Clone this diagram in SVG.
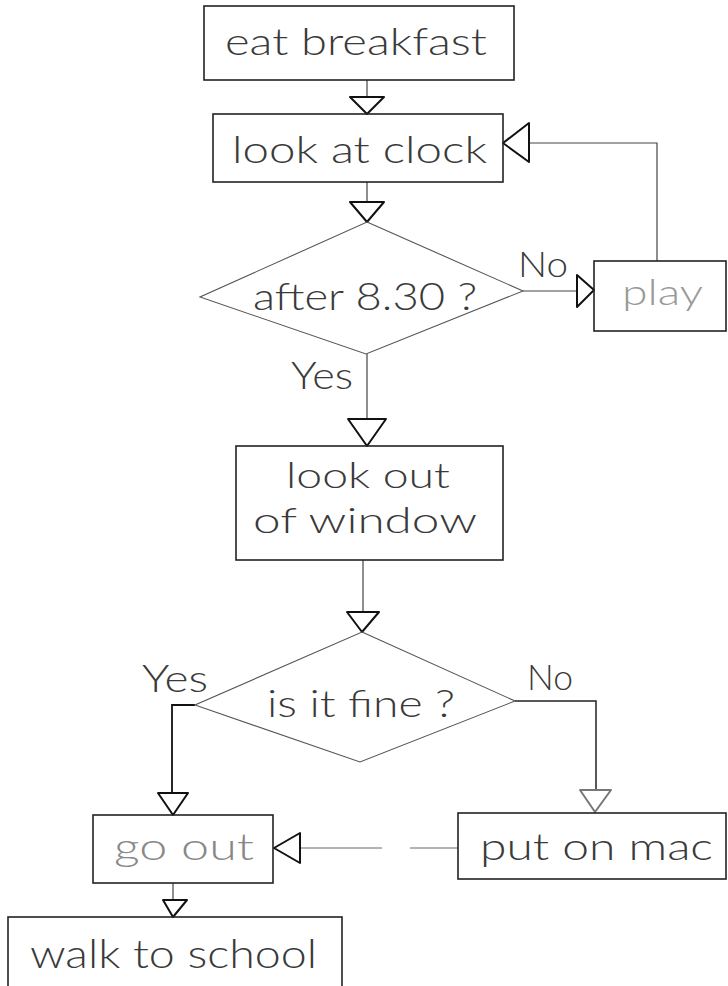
<svg xmlns="http://www.w3.org/2000/svg" width="728" height="986" viewBox="0 0 728 986">
<style>
.box{fill:none;stroke:#222;stroke-width:1.6}
.dia{fill:none;stroke:#555;stroke-width:1.1}
.ln{fill:none;stroke:#444;stroke-width:1.2}
.ah{fill:#fff;stroke:#111;stroke-width:2;stroke-linejoin:round}
.t{font-family:"Lato","Liberation Sans",sans-serif;font-weight:300;fill:#3a3a3a;text-anchor:start}
</style>
<rect width="728" height="986" fill="#fff"/>
<g id="connectors">
  <line class="ln" x1="367" y1="80" x2="367" y2="97"/>
  <polygon class="ah" points="350,97 384,97 367,114"/>
  <line class="ln" x1="367" y1="182" x2="367" y2="202"/>
  <polygon class="ah" points="350,202 384,202 367,222"/>
  <line class="ln" x1="523" y1="291" x2="577" y2="291"/>
  <polygon class="ah" points="577,275 577,307 594,290"/>
  <polyline class="ln" points="657,261 657,143 529,143"/>
  <polygon class="ah" points="529,123 529,162 503,143"/>
  <line class="ln" x1="367" y1="354" x2="367" y2="419"/>
  <polygon class="ah" points="348,419 386,419 367,446"/>
  <line class="ln" x1="363" y1="560" x2="363" y2="612"/>
  <polygon class="ah" points="347,612 379,612 362,632"/>
  <polyline class="ln" points="195,705 172,705 172,793" style="stroke:#111;stroke-width:1.8"/>
  <polygon class="ah" points="158,793 188,793 173,815"/>
  <polyline class="ln" points="515,701 596,701 596,790" style="stroke:#222;stroke-width:1.5"/>
  <polygon class="ah" points="580,790 611,790 595,812" style="stroke:#777"/>
  <line class="ln" x1="458" y1="848" x2="300" y2="848" stroke-dasharray="48,28,300" style="stroke:#666;stroke-width:1"/>
  <polygon class="ah" points="300,833 300,863 274,848"/>
  <line class="ln" x1="173" y1="883" x2="173" y2="900"/>
  <polygon class="ah" points="163,900 187,900 173,917"/>
</g>
<g id="eat-breakfast">
  <rect class="box" x="204" y="6" width="310" height="74"/>
  <text class="t" x="225" y="55" font-size="37" textLength="262" lengthAdjust="spacingAndGlyphs">eat breakfast</text>
</g>
<g id="look-at-clock">
  <rect class="box" x="213" y="114" width="290" height="68"/>
  <text class="t" x="232" y="163" font-size="38" textLength="255" lengthAdjust="spacingAndGlyphs">look at clock</text>
</g>
<g id="after-830">
  <polygon class="dia" points="367,222 523,291 366,354 200,297"/>
  <text class="t" x="253" y="310" font-size="37" textLength="224" lengthAdjust="spacingAndGlyphs">after 8.30 ?</text>
  <text class="t" x="518" y="277" font-size="36" textLength="50" lengthAdjust="spacingAndGlyphs">No</text>
  <text class="t" x="291" y="389" font-size="38" textLength="62" lengthAdjust="spacingAndGlyphs">Yes</text>
</g>
<g id="play">
  <rect class="box" x="594" y="261" width="132" height="70"/>
  <text class="t" x="622" y="305" font-size="36" textLength="81" lengthAdjust="spacingAndGlyphs" style="fill:#999">play</text>
</g>
<g id="look-out-of-window">
  <rect class="box" x="236" y="446" width="267" height="114"/>
  <text class="t" x="286" y="488" font-size="36" textLength="164" lengthAdjust="spacingAndGlyphs">look out</text>
  <text class="t" x="253" y="533" font-size="36" textLength="224" lengthAdjust="spacingAndGlyphs">of window</text>
</g>
<g id="is-it-fine">
  <polygon class="dia" points="362,632 515,701 360,762 195,705"/>
  <text class="t" x="267" y="717" font-size="38" textLength="188" lengthAdjust="spacingAndGlyphs">is it fine ?</text>
  <text class="t" x="142" y="692" font-size="38" textLength="66" lengthAdjust="spacingAndGlyphs">Yes</text>
  <text class="t" x="527" y="690" font-size="36" textLength="46" lengthAdjust="spacingAndGlyphs">No</text>
</g>
<g id="go-out">
  <rect class="box" x="93" y="815" width="180" height="68"/>
  <text class="t" x="114" y="860" font-size="38" textLength="140" lengthAdjust="spacingAndGlyphs" style="fill:#888">go out</text>
</g>
<g id="put-on-mac">
  <rect class="box" x="458" y="813" width="268" height="66"/>
  <text class="t" x="480" y="860" font-size="38" textLength="233" lengthAdjust="spacingAndGlyphs">put on mac</text>
</g>
<g id="walk-to-school">
  <rect class="box" x="8" y="917" width="334" height="80"/>
  <text class="t" x="30" y="968" font-size="40" textLength="287" lengthAdjust="spacingAndGlyphs">walk to school</text>
</g>
</svg>
